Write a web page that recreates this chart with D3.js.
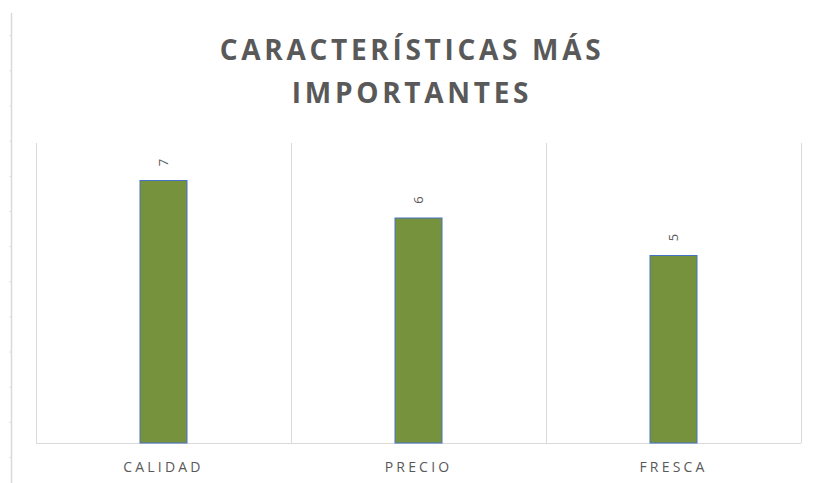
<!DOCTYPE html>
<html>
<head>
<meta charset="utf-8">
<script src="https://cdn.jsdelivr.net/npm/d3@7"></script>
<style>
  body { margin: 0; background: #fff; }
  text { font-family: "Open Sans", "Noto Sans", sans-serif; }
</style>
</head>
<body>
<svg></svg>
<script>
var categories = ["CALIDAD", "PRECIO", "FRESCA"];
var values = [7, 6, 5];
var titleLines = ["CARACTERÍSTICAS MÁS", "IMPORTANTES"];
var edgeTicks = [1, 2, 3, 4, 5, 6, 7, 8, 9, 10, 11, 12, 13];

var width = 820, height = 483;
var plot = { left: 36, right: 801, top: 143, bottom: 443 };
var grid = "#d9d9d9";

var svg = d3.select("svg")
    .attr("width", width)
    .attr("height", height);

// faint edge axis on the far left (part of the original screenshot)
var edgeScale = d3.scaleLinear().domain([0, 13]).range([0, 457]);
var edge = svg.append("g")
    .attr("transform", "translate(11.5,0)")
    .call(d3.axisLeft(edgeScale).tickValues(edgeTicks).tickSize(2).tickFormat(""));
edge.select(".domain").remove();
edge.selectAll("line").attr("stroke", grid);
svg.append("line")
    .attr("x1", 11.5).attr("x2", 11.5)
    .attr("y1", 13).attr("y2", 483)
    .attr("stroke", grid).attr("stroke-width", 1.5);

// title
svg.append("text")
    .attr("x", 410)
    .attr("text-anchor", "middle")
    .attr("font-size", 28)
    .attr("font-weight", "bold")
    .attr("fill", "#595959")
    .attr("letter-spacing", 3.7)
    .selectAll("tspan")
    .data(titleLines)
    .enter()
    .append("tspan")
      .attr("x", 412)
      .attr("y", (d, i) => 60 + i * 43)
      .text(d => d);

var x = d3.scaleBand()
    .domain(categories)
    .range([plot.left, plot.right]);

var y = d3.scaleLinear()
    .domain([0, 8])
    .range([plot.bottom, plot.top]);

// category separators
var seps = d3.range(categories.length + 1).map(i => plot.left + i * x.step());
svg.selectAll(".sep")
    .data(seps)
    .enter()
    .append("line")
      .attr("x1", d => Math.round(d) + 0.5)
      .attr("x2", d => Math.round(d) + 0.5)
      .attr("y1", plot.top)
      .attr("y2", plot.bottom)
      .attr("stroke", grid);

// x axis
var xAxis = svg.append("g")
    .attr("transform", "translate(0," + (plot.bottom + 0.5) + ")")
    .call(d3.axisBottom(x).tickSize(0).tickPadding(19));
xAxis.select(".domain").attr("stroke", grid).attr("d", "M" + plot.left + ",0H" + plot.right);
xAxis.selectAll("text")
    .attr("font-family", "'Open Sans', sans-serif")
    .attr("font-size", 14)
    .attr("letter-spacing", 3.2)
    .attr("fill", "#595959");

var data = categories.map((c, i) => ({ cat: c, val: values[i] }));
var barW = 47;

svg.selectAll(".bar")
    .data(data)
    .enter()
    .append("rect")
      .attr("x", d => x(d.cat) + x.bandwidth() / 2 - barW / 2)
      .attr("y", d => y(d.val))
      .attr("width", barW)
      .attr("height", d => y(0) - y(d.val))
      .attr("fill", "#76923c")
      .attr("stroke", "#4472c4")
      .attr("stroke-width", 1);

// rotated value labels
svg.selectAll(".lbl")
    .data(data)
    .enter()
    .append("text")
      .attr("transform", d => "translate(" + (x(d.cat) + x.bandwidth() / 2 + 4) + "," + (y(d.val) - 18) + ") rotate(-90)")
      .attr("text-anchor", "middle")
      .attr("font-size", 13)
      .attr("fill", "#595959")
      .text(d => d.val);
</script>
</body>
</html>
